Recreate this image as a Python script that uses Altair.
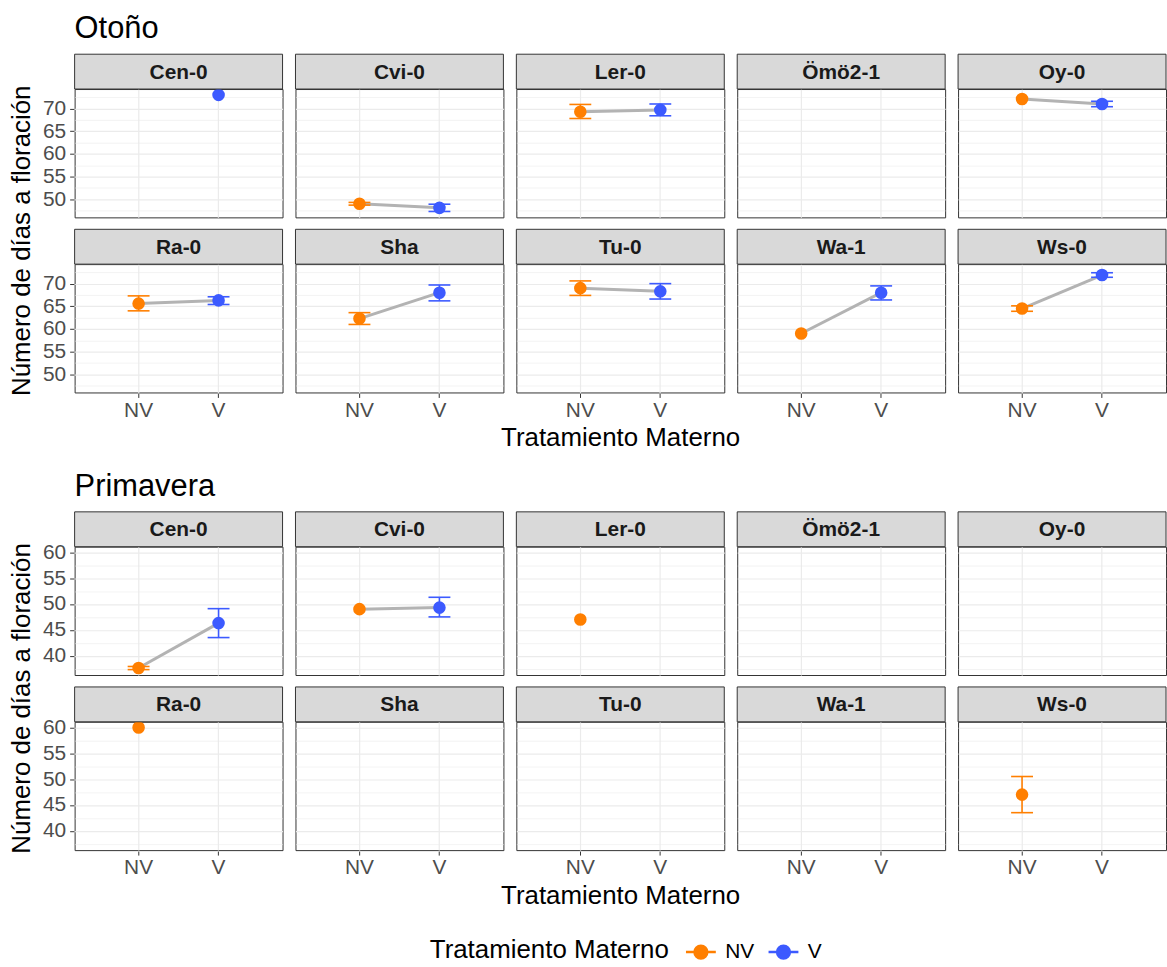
import altair as alt
import pandas as pd

accessions = ["Cen-0", "Cvi-0", "Ler-0", "Ömö2-1", "Oy-0", "Ra-0", "Sha", "Tu-0", "Wa-1", "Ws-0"]
treatments = ["NV", "V"]

# Otoño
oto_nv_mean = [None, 49.0, 69.3, None, 72.1, 65.6, 62.3, 69.0, 59.0, 64.5]
oto_nv_lo = [None, 48.7, 67.8, None, None, 64.0, 61.0, 67.4, None, 63.9]
oto_nv_hi = [None, 49.3, 70.9, None, None, 67.3, 63.6, 70.6, None, 65.1]
oto_v_mean = [73.0, 48.1, 69.7, None, 71.0, 66.3, 68.0, 68.3, 68.0, 71.9]
oto_v_lo = [None, 47.3, 68.4, None, 70.4, 65.4, 66.2, 66.6, 66.4, 71.4]
oto_v_hi = [None, 48.9, 71.0, None, 71.6, 67.1, 69.7, 70.0, 69.5, 72.4]

# Primavera
pri_nv_mean = [37.6, 49.0, 47.0, None, None, 60.0, None, None, None, 47.0]
pri_nv_lo = [37.3, None, None, None, None, None, None, None, None, 43.5]
pri_nv_hi = [37.9, None, None, None, None, None, None, None, None, 50.5]
pri_v_mean = [46.3, 49.3, None, None, None, None, None, None, None, None]
pri_v_lo = [43.5, 47.5, None, None, None, None, None, None, None, None]
pri_v_hi = [49.1, 51.3, None, None, None, None, None, None, None, None]

oto_domain = [46.0, 74.3]
pri_domain = [36.25, 61.1]
oto_ticks = [47.5, 50, 52.5, 55, 57.5, 60, 62.5, 65, 67.5, 70, 72.5]
pri_ticks = [37.5, 40, 42.5, 45, 47.5, 50, 52.5, 55, 57.5, 60]

colors = ["#FF7F00", "#3C5AFF"]


def make_df(nv_m, nv_lo, nv_hi, v_m, v_lo, v_hi):
    rows = []
    for i, acc in enumerate(accessions):
        rows.append({"acc": acc, "trat": "NV", "mean": nv_m[i], "lo": nv_lo[i], "hi": nv_hi[i]})
        rows.append({"acc": acc, "trat": "V", "mean": v_m[i], "lo": v_lo[i], "hi": v_hi[i]})
    return pd.DataFrame(rows)


W, H = 209, 129
STRIP = 35
ROWGAP = 9
FONT = "Liberation Sans"
YTITLE = "Número de días a floración"
XTITLE = "Tratamiento Materno"
TICK_FS = 21
TITLE_FS = 26

legend = alt.Legend(
    title=XTITLE,
    orient="none",
    direction="horizontal",
    titleOrient="left",
    titleLimit=500,
    titleBaseline="middle",
    legendX=422,
    legendY=851,
    titleFontSize=TITLE_FS,
    titleFontWeight="normal",
    titleColor="#000000",
    titleFont=FONT,
    titlePadding=15,
    labelFontSize=TICK_FS,
    labelColor="#000000",
    labelFont=FONT,
    labelLimit=200,
    symbolType="M-1,0H1M-0.43,0A0.43,0.43,0,1,1,0.43,0A0.43,0.43,0,1,1,-0.43,0Z",
    symbolSize=900,
    symbolStrokeWidth=2.5,
    symbolOpacity=1,
    columnPadding=8,
    labelOffset=8,
)
color_scale = alt.Scale(domain=treatments, range=colors)


def season(df, title, ydomain, yticks):
    major = "abs(datum.value % 5) < 0.001"
    x = alt.X(
        "trat:N",
        title=None,
        scale=alt.Scale(domain=treatments, padding=0.6),
        axis=alt.Axis(
            labelAngle=0,
            grid=True,
            gridColor="#EBEBEB",
            gridWidth=1.2,
            domain=False,
            tickColor="#333333",
            tickSize=4,
            labelFontSize=TICK_FS,
            labelColor="#4D4D4D",
            labelPadding=2,
        ),
    )
    yaxis = alt.Axis(
        title=None,
        values=yticks,
        labelExpr=f"{major} ? datum.label : ''",
        grid=True,
        gridColor="#EBEBEB",
        gridWidth={"condition": {"test": major, "value": 1.2}, "value": 0.6},
        tickOpacity={"condition": {"test": major, "value": 1}, "value": 0},
        domain=False,
        tickColor="#333333",
        tickSize=4,
        labelFontSize=TICK_FS,
        labelColor="#4D4D4D",
        labelPadding=4,
    )
    yscale = alt.Scale(domain=ydomain, nice=False, zero=False)
    color = alt.Color("trat:N", scale=color_scale, legend=legend)
    base = alt.Chart()
    strip = base.mark_rect(fill="#D9D9D9", stroke="#333333", strokeWidth=1).encode(
        x=alt.value(0), x2=alt.value(W), y=alt.value(-STRIP), y2=alt.value(0)
    ).transform_filter("datum.trat == 'NV'")
    strip_text = base.mark_text(fontWeight="bold", fontSize=21, color="#1A1A1A", font=FONT).encode(
        x=alt.value(W / 2), y=alt.value(-STRIP / 2 + 1), text="acc:N"
    ).transform_filter("datum.trat == 'NV'")
    line = base.mark_line(color="#B3B3B3", strokeWidth=3).encode(
        x=x, y=alt.Y("mean:Q", scale=yscale, axis=yaxis), detail="acc:N"
    )
    rule = base.mark_rule(strokeWidth=1.6).encode(
        x=x, y=alt.Y("lo:Q", axis=yaxis), y2="hi:Q", color=color
    )
    cap_lo = base.mark_tick(size=22, thickness=1.6, opacity=1).encode(
        x=x, y=alt.Y("lo:Q", axis=yaxis), color=color
    )
    cap_hi = base.mark_tick(size=22, thickness=1.6, opacity=1).encode(
        x=x, y=alt.Y("hi:Q", axis=yaxis), color=color
    )
    pts = base.mark_point(filled=True, size=160, opacity=1, strokeWidth=0.5).encode(
        x=x, y=alt.Y("mean:Q", axis=yaxis), color=color
    )
    layer = alt.layer(line, rule, cap_lo, cap_hi, pts, strip, strip_text, data=df).properties(
        width=W, height=H
    )
    fac = layer.facet(
        facet=alt.Facet("acc:N", sort=accessions, title=None,
                        header=alt.Header(labels=False, labelExpr="''", labelPadding=0,
                                          labelFontSize=1, title=None)),
        columns=5,
        spacing={"row": ROWGAP, "column": 11},
    ).properties(
        title=alt.Title(XTITLE, orient="bottom", anchor="middle", frame="bounds", dx=16,
                        fontSize=TITLE_FS, fontWeight="normal", color="#000000", font=FONT, offset=5)
    )
    panels_h = 2 * H + STRIP + ROWGAP + 3
    ytitle = alt.Chart(pd.DataFrame({"t": [YTITLE]})).mark_text(
        angle=270, fontSize=TITLE_FS, font=FONT, color="#000000"
    ).encode(
        text="t:N", x=alt.value(12), y=alt.value(panels_h / 2)
    ).properties(width=24, height=panels_h, view=alt.ViewConfig(stroke="transparent"))
    row = alt.hconcat(ytitle, fac, spacing=6)
    return alt.vconcat(row).properties(
        title=alt.Title(title, anchor="start", frame="group", dx=65, fontSize=31, fontWeight="normal",
                        color="#000000", font=FONT, offset=7)
    )


oto = season(make_df(oto_nv_mean, oto_nv_lo, oto_nv_hi, oto_v_mean, oto_v_lo, oto_v_hi),
             "Otoño", oto_domain, oto_ticks)
pri = season(make_df(pri_nv_mean, pri_nv_lo, pri_nv_hi, pri_v_mean, pri_v_lo, pri_v_hi),
             "Primavera", pri_domain, pri_ticks)

chart = alt.vconcat(oto, pri, spacing=20).properties(
    padding={"left": 8, "top": 11, "right": 0, "bottom": 0}
).configure(font=FONT).configure_view(stroke="#333333", strokeWidth=1).configure_header(
    labels=False, labelPadding=0
)

chart.save("out.html", embed_options={"renderer": "svg", "actions": False})
